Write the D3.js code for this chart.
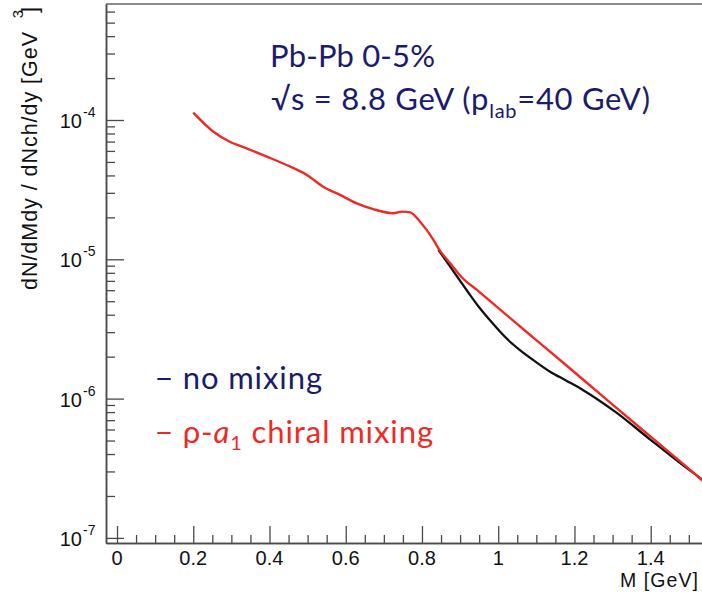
<!DOCTYPE html>
<html><head><meta charset="utf-8">
<script src="https://cdn.jsdelivr.net/npm/d3@7"></script>
<style>html,body{margin:0;padding:0;background:#fff;overflow:hidden}</style>
</head><body>
<svg id="c" width="702" height="599"></svg>
<script>
// ---- data ----
const redMass = [0.200,0.253,0.296,0.340,0.393,0.445,0.498,0.541,0.585,0.629,0.672,0.725,0.747,0.769,0.795,0.830,0.843,0.874,0.904,0.944,1.005,1.092,1.180,1.267,1.354,1.442,1.529,1.580];
const redYield = [1.13e-4,8.24e-5,6.98e-5,6.26e-5,5.46e-5,4.75e-5,4.03e-5,3.32e-5,2.90e-5,2.52e-5,2.29e-5,2.14e-5,2.20e-5,2.17e-5,1.86e-5,1.38e-5,1.20e-5,9.35e-6,7.43e-6,6.03e-6,4.35e-6,2.74e-6,1.72e-6,1.08e-6,6.79e-7,4.27e-7,2.68e-7,2.01e-7];
const blackMass = [0.843,0.874,0.917,0.952,0.979,1.005,1.031,1.057,1.092,1.136,1.180,1.223,1.311,1.398,1.486,1.534,1.580];
const blackYield = [1.17e-5,8.86e-6,6.02e-6,4.45e-6,3.63e-6,3.02e-6,2.56e-6,2.23e-6,1.89e-6,1.56e-6,1.34e-6,1.15e-6,7.90e-7,5.10e-7,3.30e-7,2.63e-7,2.00e-7];
const xTicks = [0,0.2,0.4,0.6,0.8,1,1.2,1.4];
const xTickLabels = ["0","0.2","0.4","0.6","0.8","1","1.2","1.4"];
const yExponents = [-7,-6,-5,-4];
const legendLabels = ["no mixing","chiral mixing"];
const seriesColors = {black:"#111111", red:"#ee2a24"};

const svg = d3.select("#c");
const L = 106, B = 543, T = 4, R = 730;
const x = d3.scaleLinear().domain([-0.0289, 1.6]).range([L, L + 1.6289*381.2]);
const y = d3.scaleLog().domain([Math.pow(10,-7.0366), Math.pow(10,-3.1673)]).range([B, T]);

const axisCol = "#4a4a4a";
svg.append("clipPath").attr("id","pc").append("rect").attr("x",L).attr("y",T).attr("width",R-L).attr("height",B-T);

// frame top
svg.append("line").attr("x1",L).attr("x2",R).attr("y1",T).attr("y2",T).attr("stroke","#666").attr("stroke-width",1.5);

// x axis ticks
const xMinor = d3.range(0, 1.601, 0.05).filter(v => Math.abs(v*5 - Math.round(v*5)) > 1e-6);
const gx = svg.append("g").attr("transform",`translate(0,${B})`);
gx.call(d3.axisBottom(x).tickValues(xTicks).tickSize(-17).tickSizeOuter(0).tickFormat(""));
gx.append("g").call(d3.axisBottom(x).tickValues(xMinor).tickSize(-8).tickSizeOuter(0).tickFormat(""));
gx.selectAll("path").attr("stroke",axisCol).attr("stroke-width",1.5);
gx.selectAll("line").attr("stroke",axisCol).attr("stroke-width",1.3);

// y axis ticks
const yMajor = yExponents.map(e => Math.pow(10,e));
const yMinor = [];
[-8,-7,-6,-5,-4,-3].forEach(e => { for (let k=2;k<=9;k++){ const v=k*Math.pow(10,e); if (v>=y.domain()[0] && v<=y.domain()[1]) yMinor.push(v);} });
const gy = svg.append("g").attr("transform",`translate(${L},0)`);
gy.call(d3.axisLeft(y).tickValues(yMajor).tickSize(-18).tickSizeOuter(0).tickFormat(""));
gy.append("g").call(d3.axisLeft(y).tickValues(yMinor).tickSize(-9).tickSizeOuter(0).tickFormat(""));
gy.selectAll("path").attr("stroke",axisCol).attr("stroke-width",1.5);
gy.selectAll("line").attr("stroke",axisCol).attr("stroke-width",1.3);

// x tick labels
const font = "'Liberation Sans', Arial, Helvetica, sans-serif";
svg.append("g").selectAll("text").data(xTicks).join("text")
  .attr("x", d => x(d)).attr("y", 565).attr("text-anchor","middle")
  .attr("font-family",font).attr("font-size",20).attr("fill","#111")
  .text((d,i) => xTickLabels[i]);
svg.append("text").attr("x",698).attr("y",587).attr("text-anchor","end")
  .attr("font-family",font).attr("font-size",19.5).attr("fill","#111").attr("textLength",78)
  .text("M [GeV]");

// y tick labels
const yl = svg.append("g");
yExponents.forEach(e => {
  const yy = y(Math.pow(10,e));
  yl.append("text").attr("x",82).attr("y",yy+8).attr("text-anchor","end")
    .attr("font-family",font).attr("font-size",20).attr("fill","#111").text("10");
  yl.append("text").attr("x",83).attr("y",yy-3).attr("text-anchor","start")
    .attr("font-family",font).attr("font-size",14).attr("fill","#111").text(String(e));
});

// y title
svg.append("text").attr("transform","translate(37,32) rotate(-90)").attr("text-anchor","end")
  .attr("font-family",font).attr("font-size",21.5).attr("fill","#111").attr("textLength",258)
  .text("dN/dMdy / dNch/dy [GeV");
svg.append("text").attr("transform","translate(23,14) rotate(-90)").attr("text-anchor","middle")
  .attr("font-family",font).attr("font-size",15).attr("fill","#111").text("3");
svg.append("text").attr("transform","translate(37,13) rotate(-90)").attr("text-anchor","start")
  .attr("font-family",font).attr("font-size",21.5).attr("fill","#111").text("]");

// curves
const line = d3.line().x(d => x(d[0])).y(d => y(d[1])).curve(d3.curveMonotoneX);
const plot = svg.append("g").attr("clip-path","url(#pc)");
plot.append("path").datum(blackMass.map((m,i)=>[m,blackYield[i]]))
  .attr("d",line).attr("fill","none").attr("stroke",seriesColors.black).attr("stroke-width",2.3);
plot.append("path").datum(redMass.map((m,i)=>[m,redYield[i]]))
  .attr("d",line).attr("fill","none").attr("stroke",seriesColors.red).attr("stroke-width",2.4);

// annotation text
const tfont = "Lato, 'Open Sans', sans-serif";
const navy = "#1a1a6e";
svg.append("text").attr("x",270).attr("y",67).attr("font-family",tfont).attr("font-size",31)
  .attr("fill",navy).attr("textLength",165).text("Pb-Pb 0-5%");
const t2 = svg.append("text").attr("x",271).attr("y",110).attr("font-family",tfont).attr("font-size",31)
  .attr("fill",navy);
t2.append("tspan").text("√s = 8.8 GeV (p");
t2.append("tspan").attr("font-size",20).attr("dy",8).text("lab");
t2.append("tspan").attr("dy",-8).text("=40 GeV)");
t2.attr("textLength",379);

// legend
svg.append("text").attr("x",155).attr("y",389).attr("font-family",tfont).attr("font-size",31)
  .attr("fill",navy).attr("textLength",167).text("− " + legendLabels[0]);
const lg = svg.append("text").attr("x",155).attr("y",443).attr("font-family",tfont).attr("font-size",31)
  .attr("fill",seriesColors.red);
lg.append("tspan").text("− ρ-");
lg.append("tspan").attr("font-style","italic").text("a");
lg.append("tspan").attr("font-size",20).attr("dy",7).text("1");
lg.append("tspan").attr("dy",-7).text(" " + legendLabels[1]);
lg.attr("textLength",278);
</script>
</body></html>
